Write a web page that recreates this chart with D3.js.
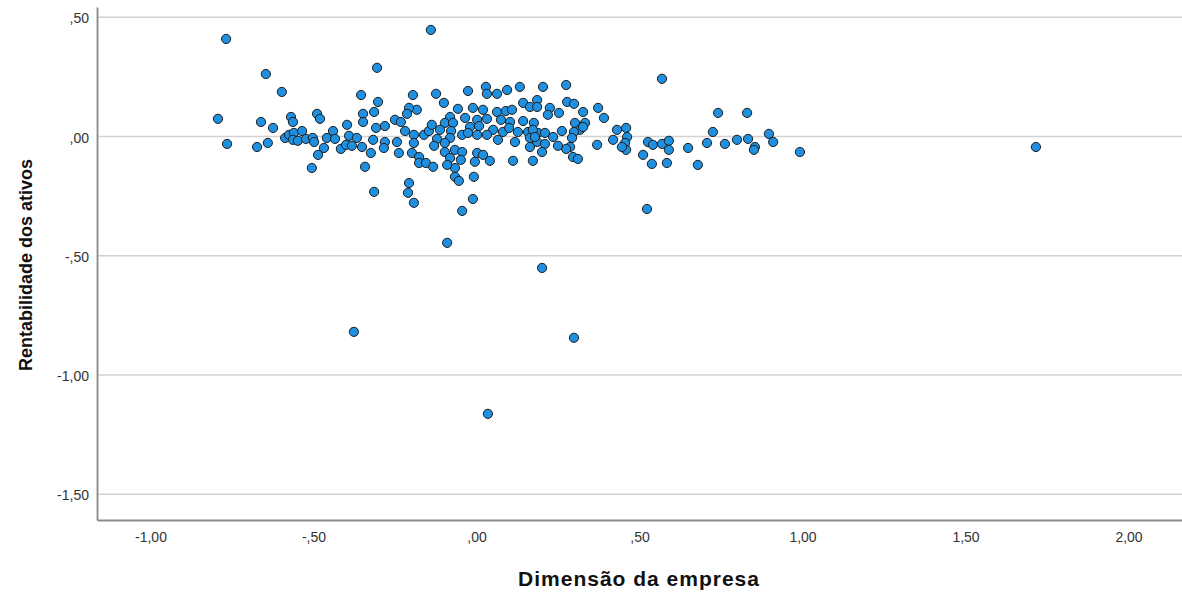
<!DOCTYPE html>
<html>
<head>
<meta charset="utf-8">
<script src="https://cdn.jsdelivr.net/npm/d3@7"></script>
<style>
  html, body { margin: 0; padding: 0; background: #ffffff; }
  svg { display: block; font-family: "Liberation Sans", Arial, sans-serif; }
</style>
</head>
<body>
<svg id="chart" width="1182" height="595"></svg>
<script>
// ---- Data ----
const dimensaoEmpresa = [
  -0.793,-0.768,-0.765,-0.646,-0.597,-0.661,-0.624,-0.673,-0.640,-0.569,
  -0.563,-0.587,-0.575,-0.560,-0.563,-0.548,-0.535,-0.523,-0.502,-0.498,
  -0.489,-0.480,-0.468,-0.486,-0.505,-0.459,-0.440,-0.434,-0.416,-0.397,
  -0.391,-0.400,-0.382,-0.367,-0.354,-0.348,-0.348,-0.351,-0.342,
  -0.305,-0.302,-0.314,-0.195,-0.183,-0.207,-0.213,-0.250,-0.232,-0.281,
  -0.308,-0.324,-0.317,-0.281,-0.284,-0.244,-0.238,-0.219,-0.192,-0.192,
  -0.198,-0.176,-0.176,-0.155,-0.314,-0.207,-0.210,-0.192,-0.161,-0.146,
  -0.140,-0.124,-0.100,-0.026,0.029,0.032,0.063,0.094,0.133,0.143,
  0.164,0.186,-0.057,-0.011,0.020,0.063,0.090,0.109,-0.081,-0.035,
  0.002,0.032,0.075,0.103,0.143,0.176,-0.137,-0.097,-0.072,-0.112,
  -0.078,-0.020,0.008,0.051,0.081,0.100,0.127,0.158,0.189,-0.121,
  -0.081,-0.044,-0.026,0.002,0.032,0.066,0.118,0.164,0.186,-0.097,
  -0.097,-0.130,-0.066,-0.044,0.002,0.020,-0.081,-0.048,0.041,0.112,
  0.173,-0.066,-0.066,-0.054,-0.008,-0.011,-0.044,-0.090,-0.133,-0.005,
  0.204,0.275,0.186,0.225,0.219,0.253,0.278,0.299,0.327,0.373,
  0.391,0.173,0.179,0.164,0.210,0.235,0.262,0.302,0.317,0.333,
  0.327,0.299,0.293,0.287,0.275,0.250,0.210,0.201,0.296,0.311,
  0.370,0.419,0.431,0.459,0.462,0.456,0.459,0.446,0.511,0.526,
  0.538,0.541,0.569,0.590,0.590,0.584,0.649,0.679,0.741,0.725,
  0.707,0.762,0.799,0.830,0.833,0.854,0.851,0.897,0.910,0.992,
  0.569,0.523,1.716,-0.376,-0.090,0.201,0.299,0.035
];
const rentabilidadeAtivos = [
  0.074,0.409,-0.031,0.262,0.187,0.061,0.036,-0.044,-0.027,0.082,
  0.061,-0.006,0.007,0.015,-0.014,-0.018,0.023,-0.010,-0.006,-0.023,
  0.095,0.074,-0.048,-0.077,-0.132,-0.006,0.023,-0.010,-0.052,0.049,
  0.003,-0.035,-0.039,-0.006,0.174,0.095,0.061,-0.044,-0.127,
  0.288,0.145,0.103,0.174,0.112,0.120,0.095,0.070,0.061,0.044,
  0.036,-0.069,-0.014,-0.023,-0.048,-0.023,-0.069,0.023,0.007,-0.027,
  -0.069,-0.086,-0.111,-0.111,-0.232,-0.195,-0.236,-0.278,0.007,0.023,
  0.447,0.179,0.141,0.191,0.208,0.179,0.179,0.195,0.208,0.141,
  0.124,0.153,0.116,0.120,0.112,0.103,0.107,0.112,0.082,0.078,
  0.070,0.074,0.070,0.061,0.065,0.057,0.049,0.057,0.057,0.028,
  0.023,0.040,0.044,0.028,0.019,0.036,0.019,0.019,0.015,-0.010,
  -0.006,0.007,0.015,0.007,0.007,-0.014,-0.023,-0.006,-0.023,-0.065,
  -0.027,-0.039,-0.056,-0.065,-0.069,-0.077,-0.090,-0.098,-0.102,-0.102,
  -0.102,-0.132,-0.169,-0.186,-0.169,-0.262,-0.312,-0.119,-0.127,-0.106,
  0.208,0.216,0.124,0.120,0.091,0.099,0.145,0.137,0.103,0.120,
  0.078,0.028,-0.002,-0.044,0.015,-0.002,0.023,0.057,0.028,0.057,
  0.040,0.019,-0.006,-0.044,-0.052,-0.039,-0.031,-0.065,-0.086,-0.094,
  -0.035,-0.014,0.028,0.036,-0.002,-0.027,-0.056,-0.044,-0.077,-0.023,
  -0.115,-0.035,-0.031,-0.018,-0.056,-0.111,-0.048,-0.119,0.099,0.019,
  -0.027,-0.031,-0.014,0.099,-0.010,-0.044,-0.056,0.011,-0.023,-0.065,
  0.242,-0.304,-0.044,-0.819,-0.446,-0.551,-0.844,-1.163
];
const xTickValues = [-1, -0.5, 0, 0.5, 1, 1.5, 2];
const xTickLabels = ["-1,00", "-,50", ",00", ",50", "1,00", "1,50", "2,00"];
const yTickValues = [0.5, 0, -0.5, -1, -1.5];
const yTickLabels = [",50", ",00", "-,50", "-1,00", "-1,50"];
const xTitle = "Dimensão da empresa";
const yTitle = "Rentabilidade dos ativos";

// ---- Layout ----
const W = 1182, H = 595;
const margin = { top: 7, right: 0, bottom: 75, left: 97 };
const svg = d3.select("#chart");

const x = d3.scaleLinear().domain([-1.164, 2.164]).range([margin.left, W - margin.right]);
const y = d3.scaleLinear().domain([-1.608, 0.543]).range([H - margin.bottom, margin.top]);

// gridlines
svg.append("g").selectAll("line").data(yTickValues).join("line")
  .attr("x1", margin.left).attr("x2", W - margin.right)
  .attr("y1", d => y(d)).attr("y2", d => y(d))
  .attr("stroke", "#d2d2d2").attr("stroke-width", 1.5);

// axes
const xAxis = d3.axisBottom(x).tickValues(xTickValues).tickSize(0).tickPadding(12)
  .tickFormat((d, i) => xTickLabels[i]);
const yAxis = d3.axisLeft(y).tickValues(yTickValues).tickSize(0).tickPadding(8)
  .tickFormat((d, i) => yTickLabels[i]);

const gx = svg.append("g").attr("transform", `translate(0,${H - margin.bottom})`).call(xAxis);
const gy = svg.append("g").attr("transform", `translate(${margin.left},0)`).call(yAxis);
[gx, gy].forEach(g => {
  g.select(".domain").attr("stroke", "#8a8a8a").attr("stroke-width", 1.8);
  g.selectAll("text").attr("fill", "#333").style("font-size", "14px")
    .style("font-family", "'Liberation Sans', Arial, sans-serif");
});
gy.selectAll("text").attr("dy", "0.4em");

// points
const pts = dimensaoEmpresa.map((d, i) => ({ x: d, y: rentabilidadeAtivos[i] }));
svg.append("g").selectAll("circle").data(pts).join("circle")
  .attr("cx", d => x(d.x)).attr("cy", d => y(d.y)).attr("r", 4.6)
  .attr("fill", "#1f8fdf").attr("stroke", "#1b1b1b").attr("stroke-width", 1);

// titles
svg.append("text").attr("x", 639).attr("y", 586)
  .attr("text-anchor", "middle").attr("font-weight", "bold")
  .style("font-size", "21px").style("letter-spacing", "1px").attr("fill", "#111")
  .text(xTitle);
svg.append("text").attr("transform", `translate(32,${265}) rotate(-90)`)
  .attr("text-anchor", "middle").attr("font-weight", "bold")
  .style("font-size", "18px").attr("fill", "#111")
  .text(yTitle);
</script>
</body>
</html>
